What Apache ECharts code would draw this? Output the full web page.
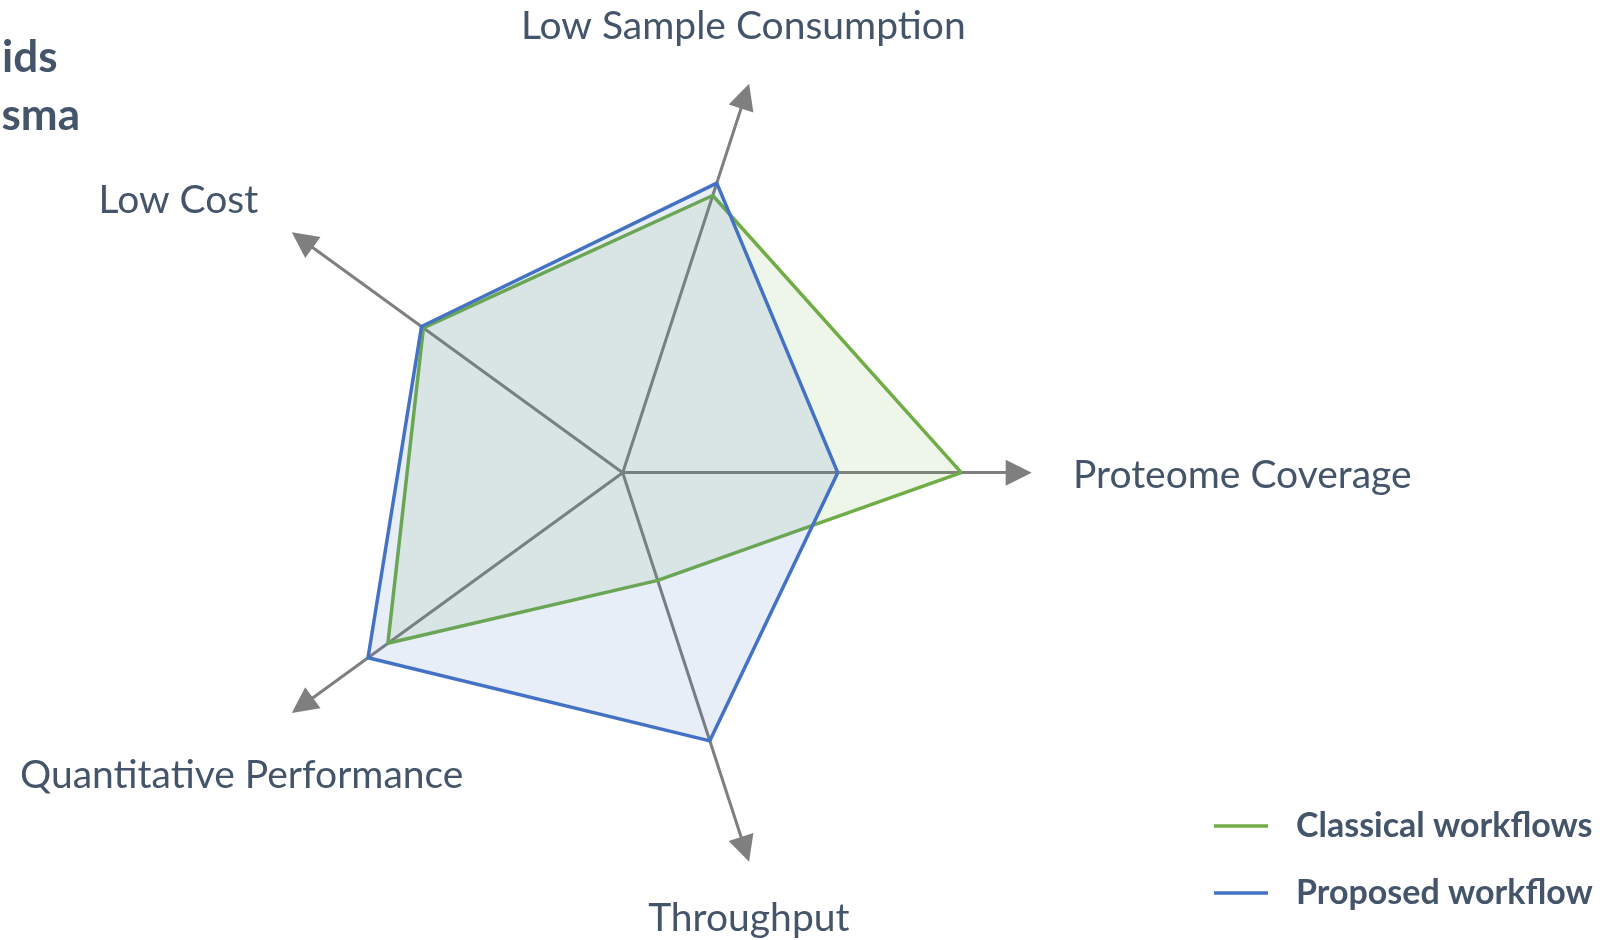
<!DOCTYPE html>
<html>
<head>
<meta charset="utf-8">
<script src="https://cdn.jsdelivr.net/npm/echarts@6/dist/echarts.min.js"></script>
<style>
html,body{margin:0;padding:0;background:#fff;}
#chart{width:1604px;height:940px;}
</style>
</head>
<body>
<div id="chart"></div>
<script>
// ---- data ----
var axisNames = ['Proteome Coverage', 'Low Sample Consumption', 'Low Cost', 'Quantitative Performance', 'Throughput'];
var seriesNames = ['Classical workflows', 'Proposed workflow'];
var classicalValues = [85.5, 73.6, 62.2, 73.3, 28.6];
var proposedValues = [54.3, 76.9, 62.8, 79.5, 71.2];
var axisMax = 100;
var cornerWords = ['ids', 'sma'];

// ---- styles ----
var GREEN = '#70AD47';
var BLUE = '#4472C4';
var AXIS = '#7F7F7F';
var TEXT = '#44546A';
var FONT = 'Lato, "Open Sans", sans-serif';
var cx = 622.7, cy = 472.7, R = 396;

var chart = echarts.init(document.getElementById('chart'), null, {renderer: 'canvas'});

var labelPos = [
  {x: 1073, y: 475, align: 'left'},
  {x: 743.3, y: 26, align: 'center'},
  {x: 178.4, y: 200, align: 'center'},
  {x: 241.7, y: 775, align: 'center'},
  {x: 748.8, y: 918, align: 'center'}
];

var graphics = [];
axisNames.forEach(function (n, i) {
  graphics.push({
    type: 'text', x: labelPos[i].x, y: labelPos[i].y, silent: true,
    style: {text: n, fill: TEXT, font: '39px ' + FONT, align: labelPos[i].align, verticalAlign: 'middle'}
  });
});
graphics.push({
  type: 'text', x: 57.5, y: 58, silent: true,
  style: {text: cornerWords[0], fill: TEXT, font: 'bold 44px ' + FONT, align: 'right', verticalAlign: 'middle'}
});
graphics.push({
  type: 'text', x: 80, y: 116, silent: true,
  style: {text: cornerWords[1], fill: TEXT, font: 'bold 44px ' + FONT, align: 'right', verticalAlign: 'middle'}
});

var option = {
  backgroundColor: '#ffffff',
  animation: false,
  legend: {
    orient: 'vertical',
    left: 1214,
    top: 806,
    padding: 0,
    itemWidth: 54,
    itemHeight: 3.5,
    itemGap: 27,
    icon: 'rect',
    selectedMode: false,
    data: seriesNames,
    textStyle: {
      color: TEXT, fontFamily: FONT, fontWeight: 'bold', fontSize: 34,
      lineHeight: 40, padding: [0, 0, 0, 23]
    }
  },
  radar: {
    center: [cx, cy],
    radius: R,
    startAngle: 0,
    shape: 'polygon',
    indicator: axisNames.map(function (n) { return {name: n, max: axisMax, min: 0}; }),
    axisName: {show: false},
    splitLine: {show: false},
    splitArea: {show: false},
    axisTick: {show: false},
    axisLabel: {show: false},
    axisLine: {
      show: true,
      symbol: ['none', 'triangle'],
      symbolSize: [26, 26],
      lineStyle: {color: AXIS, width: 3}
    }
  },
  series: [{
    type: 'radar',
    symbol: 'none',
    data: [
      {name: seriesNames[0], value: classicalValues,
       lineStyle: {color: GREEN, width: 3.5}, itemStyle: {color: GREEN},
       areaStyle: {color: GREEN, opacity: 0.12}},
      {name: seriesNames[1], value: proposedValues,
       lineStyle: {color: BLUE, width: 3.5}, itemStyle: {color: BLUE},
       areaStyle: {color: BLUE, opacity: 0.12}}
    ]
  }],
  graphic: graphics
};
chart.setOption(option);
</script>
</body>
</html>
